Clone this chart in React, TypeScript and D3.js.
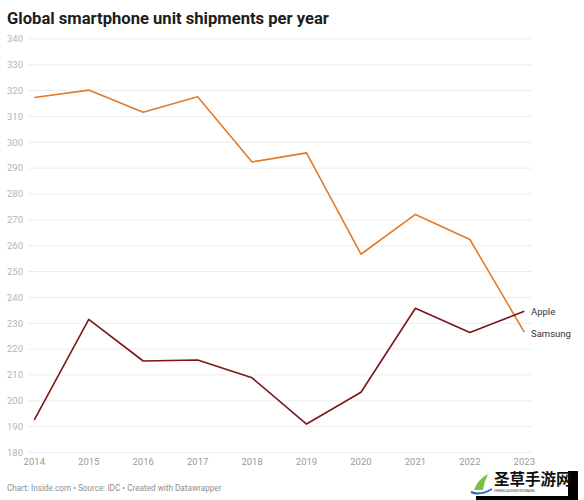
import React from "react";
import * as d3 from "d3";

const years = [2014, 2015, 2016, 2017, 2018, 2019, 2020, 2021, 2022, 2023];
const samsung = [317.3, 320.2, 311.6, 317.6, 292.4, 295.9, 256.7, 272.1, 262.4, 226.6];
const apple = [192.6, 231.5, 215.4, 215.8, 208.9, 191.0, 203.3, 235.8, 226.4, 234.6];
const yTicks = [180, 190, 200, 210, 220, 230, 240, 250, 260, 270, 280, 290, 300, 310, 320, 330, 340];
const seriesNames = ["Apple", "Samsung"];
const title = "Global smartphone unit shipments per year";
const footer = "Chart: Inside.com • Source: IDC • Created with Datawrapper";

export default function App() {
  const W = 584, H = 500;
  const x = d3.scaleLinear().domain([2014, 2023]).range([34.3, 524.3]);
  const y = d3.scaleLinear().domain([180, 340]).range([452.5, 38.9]);
  const line = d3.line<number>().x((_, i) => x(years[i])).y((d) => y(d));
  const font = "Roboto, 'Noto Sans', sans-serif";
  return (
    <svg width={W} height={H} style={{ position: "absolute", left: 0, top: 0, background: "#fff", fontFamily: font }}>
      <rect x={0} y={0} width={W} height={H} fill="#fff" />
      <text x={7} y={24} fontSize={16.6} fontWeight={700} fill="#1d1d1d">{title}</text>
      {yTicks.map((t) => (
        <g key={t}>
          <line x1={28} x2={532} y1={y(t)} y2={y(t)} stroke="#ececec" strokeWidth={1} />
          <text x={7} y={y(t)} dy="0.35em" fontSize={9.5} fill="#b5b5b5">{t}</text>
        </g>
      ))}
      {years.map((yr) => (
        <text key={yr} x={x(yr)} y={462} dy="0.35em" textAnchor="middle" fontSize={9.5} fill="#9a9a9a">{yr}</text>
      ))}
      <path d={line(samsung) || ""} fill="none" stroke="#fff" strokeWidth={4} strokeLinejoin="round" opacity={0.8} />
      <path d={line(apple) || ""} fill="none" stroke="#fff" strokeWidth={4} strokeLinejoin="round" opacity={0.8} />
      <path d={line(samsung) || ""} fill="none" stroke="#e07b2c" strokeWidth={1.6} strokeLinejoin="round" />
      <path d={line(apple) || ""} fill="none" stroke="#7d1419" strokeWidth={1.6} strokeLinejoin="round" />
      <text x={531} y={y(apple[apple.length - 1]) + 0.5} dy="0.35em" fontSize={9.5} fill="#333">{seriesNames[0]}</text>
      <text x={531} y={y(samsung[samsung.length - 1]) + 1.5} dy="0.35em" fontSize={9.5} fill="#333">{seriesNames[1]}</text>
      <text x={7} y={488} dy="0.35em" fontSize={8.2} fill="#8f8f8f">{footer}</text>
      <g>
        <rect x={476} y={471} width={102} height={29} fill="#000" />
        <rect x={468} y={469} width={100} height={27} fill="#fff" />
        <path d="M474,490 Q478,479 488,474 Q484,482 483,490 Z" fill="#7cc242" />
        <path d="M471,492 Q480,496 492,489" fill="none" stroke="#1b6fb8" strokeWidth={2} />
        <text x={494} y={485} fontSize={15.5} fontWeight={700} fill="#111" fontFamily="'Noto Sans CJK SC', sans-serif">圣草手游网</text>
        <text x={494} y={492} fontSize={3.2} fill="#333">SHENGCAOSHOUYOUWANG</text>
      </g>
    </svg>
  );
}
